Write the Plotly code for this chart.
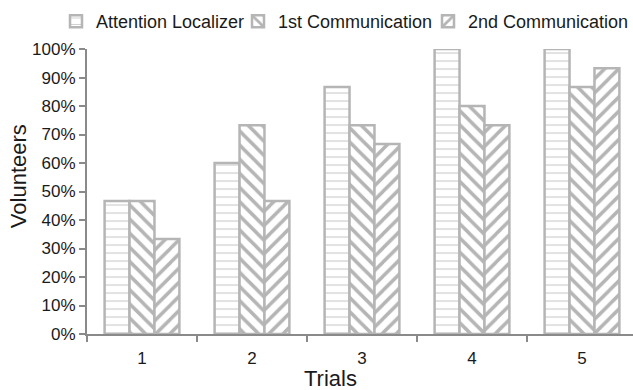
import plotly.graph_objects as go

trials = ["1", "2", "3", "4", "5"]
attention_localizer = [0.467, 0.600, 0.867, 1.000, 1.000]
first_communication = [0.467, 0.733, 0.733, 0.800, 0.867]
second_communication = [0.333, 0.467, 0.667, 0.733, 0.933]
y_ticks = [i / 10 for i in range(11)]
y_tick_labels = [f"{i * 10}%" for i in range(11)]

W, H = 633, 390
L, R, T, B = 87, 0, 47, 56
CAT_PX = 110  # pixel width of one trial slot

GRAY = "#b5b5b5"
AXIS = "#8a8a8a"
TEXT = "#1a1a1a"
FONT = "Liberation Sans, Arial, sans-serif"

series = [
    ("Attention Localizer", attention_localizer,
     dict(shape="-", size=8, solidity=0.14, fgcolor="#cccccc"), "legend", 56),
    ("1st Communication", first_communication,
     dict(shape="\\", size=10, solidity=0.35, fgcolor=GRAY), "legend2", 238),
    ("2nd Communication", second_communication,
     dict(shape="/", size=10, solidity=0.35, fgcolor=GRAY), "legend3", 428),
]

fig = go.Figure()
legend_layout = {}
for name, vals, pat, leg, lx in series:
    fig.add_trace(go.Bar(
        name=name, x=trials, y=vals, legend=leg,
        marker=dict(color="white", line=dict(color=GRAY, width=2.5),
                    pattern=dict(bgcolor="white", fillmode="replace", **pat)),
    ))
    legend_layout[leg] = dict(
        orientation="h", xref="container", yref="container",
        x=lx / W, y=1.0 - 3 / H, xanchor="left", yanchor="top",
        font=dict(size=18, color=TEXT, family=FONT), itemwidth=30,
        bgcolor="rgba(0,0,0,0)")

plot_w = W - L - R
plot_h = H - T - B
x_end = -0.5 + plot_w / CAT_PX

fig.update_layout(
    width=W, height=H,
    margin=dict(l=L, r=R, t=T, b=B),
    paper_bgcolor="white", plot_bgcolor="white",
    barmode="group", bargap=0.32, bargroupgap=0,
    font=dict(family=FONT, color=TEXT, size=17),
    showlegend=True,
    xaxis=dict(range=[-0.5, x_end], showline=True, linecolor=AXIS, linewidth=2,
               ticks="outside", tickson="boundaries", ticklen=6, tickcolor=AXIS,
               tickwidth=2, showgrid=False, tickfont=dict(size=17, color=TEXT),
               ticklabelstandoff=8, fixedrange=True),
    yaxis=dict(range=[0, 1], tickvals=y_ticks, ticktext=y_tick_labels,
               showline=True, linecolor=AXIS, linewidth=2, ticks="outside",
               ticklen=6, tickcolor=AXIS, tickwidth=2, showgrid=False,
               zeroline=False, tickfont=dict(size=17, color=TEXT)),
    annotations=[
        dict(text="Volunteers", textangle=-90, xref="paper", yref="paper",
             x=(18 - L) / plot_w, y=(H - B - 175) / plot_h,
             xanchor="center", yanchor="middle", showarrow=False,
             font=dict(size=22, color=TEXT)),
        dict(text="Trials", xref="paper", yref="paper",
             x=(330 - L) / plot_w, y=-(379 - (H - B)) / plot_h,
             xanchor="center", yanchor="middle", showarrow=False,
             font=dict(size=22, color=TEXT)),
    ],
    **legend_layout,
)

fig.write_html("out.html")
